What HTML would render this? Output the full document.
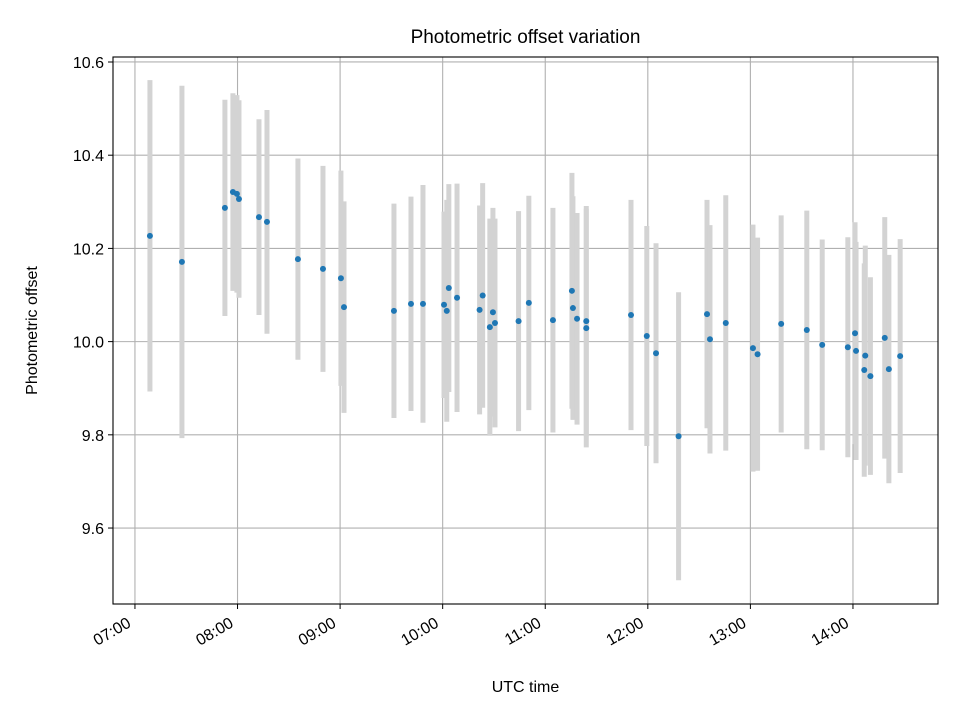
<!DOCTYPE html>
<html><head><meta charset="utf-8"><style>
html,body{margin:0;padding:0;background:#fff;}
svg{display:block;font-family:"Liberation Sans","DejaVu Sans",sans-serif;}
</style></head><body>
<svg id="chart" width="960" height="720" xmlns="http://www.w3.org/2000/svg"></svg>
<script>
const times = [7.146,7.458,7.877,7.955,7.994,8.014,8.209,8.287,8.589,8.833,9.008,9.038,9.525,9.691,9.808,10.013,10.04,10.06,10.14,10.36,10.39,10.46,10.49,10.51,10.74,10.84,11.075,11.26,11.27,11.31,11.40,11.40,11.836,11.99,12.08,12.30,12.577,12.606,12.76,13.025,13.07,13.30,13.55,13.70,13.95,14.02,14.03,14.11,14.12,14.17,14.31,14.35,14.46];
const offsets = [10.227,10.171,10.287,10.321,10.317,10.306,10.267,10.257,10.177,10.156,10.136,10.074,10.066,10.081,10.081,10.079,10.066,10.115,10.094,10.068,10.099,10.031,10.063,10.04,10.044,10.083,10.046,10.109,10.072,10.049,10.029,10.044,10.057,10.012,9.975,9.797,10.059,10.005,10.04,9.986,9.973,10.038,10.025,9.993,9.988,10.018,9.98,9.939,9.97,9.926,10.008,9.941,9.969];
const errors = [0.334,0.378,0.232,0.212,0.212,0.212,0.21,0.24,0.216,0.221,0.231,0.227,0.23,0.23,0.255,0.2,0.238,0.223,0.245,0.224,0.241,0.233,0.224,0.224,0.236,0.23,0.241,0.253,0.24,0.227,0.256,0.247,0.247,0.236,0.236,0.309,0.245,0.245,0.274,0.265,0.25,0.233,0.256,0.226,0.236,0.238,0.234,0.229,0.236,0.212,0.259,0.245,0.251];
const xTicks = [7,8,9,10,11,12,13,14];
const xTickLabels = ["07:00","08:00","09:00","10:00","11:00","12:00","13:00","14:00"];
const yTicks = [9.6,9.8,10.0,10.2,10.4,10.6];
const yTickLabels = ["9.6","9.8","10.0","10.2","10.4","10.6"];

const L=113,R=938,T=57,B=604;
const xMin=6.786,xMax=14.829,yMin=9.437,yMax=10.6107;
const sx=v=>L+(v-xMin)/(xMax-xMin)*(R-L);
const sy=v=>B-(v-yMin)/(yMax-yMin)*(B-T);
const svg=document.getElementById('chart');
const NS='http://www.w3.org/2000/svg';
function mk(tag,attrs,parent){const e=document.createElementNS(NS,tag);for(const k in attrs)e.setAttribute(k,attrs[k]);(parent||svg).appendChild(e);return e;}

const grid=mk('g',{});


xTicks.forEach(t=>{const x=sx(t);mk('line',{x1:x,x2:x,y1:T,y2:B,stroke:'#b0b0b0','stroke-width':1.1},grid);});
yTicks.forEach(t=>{const y=sy(t);mk('line',{x1:L,x2:R,y1:y,y2:y,stroke:'#b0b0b0','stroke-width':1.1},grid);});

const bars=mk('g',{});


times.forEach((t,i)=>{
  const x=sx(t);
  const l=mk('line',{x1:x,x2:x,y1:sy(offsets[i]+errors[i]),y2:sy(offsets[i]-errors[i]),stroke:'#d3d3d3','stroke-width':5},bars);
  
  
});
const pts=mk('g',{});


times.forEach((t,i)=>{
  const c=mk('circle',{cx:sx(t),cy:sy(offsets[i]),r:3,fill:'#1f77b4'},pts);
  
  
});

const frame=mk('rect',{x:L,y:T,width:R-L,height:B-T,fill:'none',stroke:'#000','stroke-width':1.1});



const xax=mk('g',{});


xTicks.forEach((t,i)=>{
  const x=sx(t);
  mk('line',{x1:x,x2:x,y1:B,y2:B+5,stroke:'#000','stroke-width':1},xax);
  const ax=x-3, ay=B+22;
  const tx=mk('text',{x:ax,y:ay,'font-size':16,'text-anchor':'end',transform:`rotate(-30 ${ax} ${ay})`,fill:'#000'},xax);
  
  
  tx.textContent=xTickLabels[i];
});
const yax=mk('g',{});


yTicks.forEach((t,i)=>{
  const y=sy(t);
  mk('line',{x1:L-5,x2:L,y1:y,y2:y,stroke:'#000','stroke-width':1},yax);
  const tx=mk('text',{x:L-9,y:y+6,'font-size':16,'text-anchor':'end',fill:'#000'},yax);
  
  
  tx.textContent=yTickLabels[i];
});
const title=mk('text',{x:(L+R)/2,y:43,'font-size':19,'text-anchor':'middle',fill:'#000'});


title.textContent='Photometric offset variation';
const xt=mk('text',{x:(L+R)/2,y:692,'font-size':16,'text-anchor':'middle',fill:'#000'});


xt.textContent='UTC time';
const yt=mk('text',{x:37,y:(T+B)/2,'font-size':16,'text-anchor':'middle',transform:`rotate(-90 37 ${(T+B)/2})`,fill:'#000'});


yt.textContent='Photometric offset';
</script>
</body></html>
